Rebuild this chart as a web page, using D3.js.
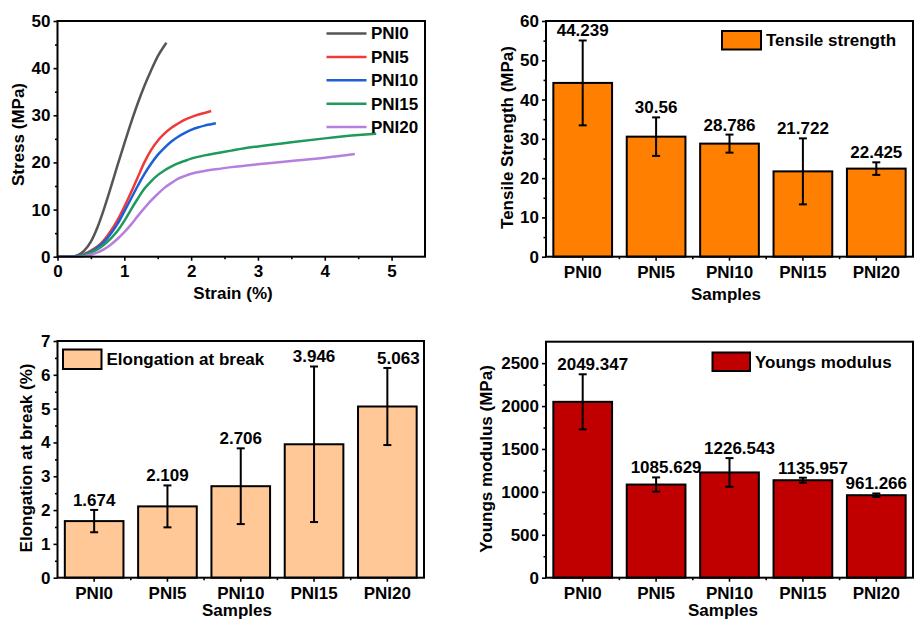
<!DOCTYPE html>
<html><head><meta charset="utf-8">
<script src="https://cdn.jsdelivr.net/npm/d3@7"></script>
<style>
body{margin:0;background:#fff}
text{font-family:"Liberation Sans",Arial,sans-serif;font-weight:bold;fill:#000}
</style>
</head><body><svg id="c" width="914" height="621"></svg>
<script>
// ---------- DATA ----------
const samples = ["PNI0","PNI5","PNI10","PNI15","PNI20"];

const tensile = [44.239, 30.56, 28.786, 21.722, 22.425];
const tensileErr = [10.8, 4.9, 2.3, 8.4, 1.6];
const tensileLabels = ["44.239","30.56","28.786","21.722","22.425"];

const elongation = [1.674, 2.109, 2.706, 3.946, 5.063];
const elongationErr = [0.33, 0.62, 1.12, 2.3, 1.14];
const elongationLabels = ["1.674","2.109","2.706","3.946","5.063"];

const modulus = [2049.347, 1085.629, 1226.543, 1135.957, 961.266];
const modulusErr = [321, 83, 167, 29, 20];
const modulusLabels = ["2049.347","1085.629","1226.543","1135.957","961.266"];

const curveNames = ["PNI0","PNI5","PNI10","PNI15","PNI20"];
const curveColors = ["#555555","#F03A3A","#1C5FD6","#1F9A5C","#B67FDD"];
const curvePNI0 = [[0,0],[0.2,0],[0.3,0.3],[0.4,1.3],[0.5,3.2],[0.6,6.3],[0.7,10.3],[0.8,14.8],[0.9,19.5],[1.0,24],[1.1,28.4],[1.2,32.5],[1.3,36.2],[1.4,39.5],[1.5,42.5],[1.63,45.4]];
const curvePNI5 = [[0,0],[0.2,0],[0.3,0.2],[0.4,0.6],[0.5,1.3],[0.6,2.2],[0.7,3.6],[0.8,5.5],[0.9,7.8],[1.0,10.6],[1.1,13.6],[1.2,16.8],[1.3,20],[1.4,22.6],[1.5,24.6],[1.6,26.1],[1.7,27.3],[1.8,28.2],[1.9,29],[2.0,29.6],[2.1,30.1],[2.2,30.5],[2.3,30.9]];
const curvePNI10 = [[0,0],[0.2,0],[0.3,0.2],[0.4,0.5],[0.5,1.1],[0.6,2],[0.7,3.2],[0.8,4.9],[0.9,7],[1.0,9.6],[1.1,12.3],[1.2,15],[1.3,17.5],[1.4,19.7],[1.5,21.6],[1.6,23.1],[1.7,24.4],[1.8,25.4],[1.9,26.2],[2.0,26.9],[2.1,27.4],[2.2,27.8],[2.3,28.1],[2.37,28.3]];
const curvePNI15 = [[0,0],[0.2,0],[0.3,0.1],[0.4,0.4],[0.5,0.9],[0.6,1.6],[0.7,2.6],[0.8,3.9],[0.9,5.5],[1.0,7.6],[1.1,10],[1.2,12.3],[1.3,14.4],[1.4,16],[1.5,17.3],[1.6,18.3],[1.7,19.1],[1.8,19.8],[1.9,20.3],[2.0,20.8],[2.2,21.5],[2.4,22],[2.6,22.5],[2.8,23],[3.0,23.4],[3.5,24.3],[4.0,25.1],[4.5,25.8],[4.77,26.1]];
const curvePNI20 = [[0,0],[0.3,0],[0.4,0.1],[0.5,0.4],[0.6,0.9],[0.7,1.6],[0.8,2.6],[0.9,3.8],[1.0,5.2],[1.1,6.8],[1.2,8.6],[1.3,10.3],[1.4,11.9],[1.5,13.3],[1.6,14.6],[1.7,15.6],[1.8,16.5],[1.9,17.1],[2.0,17.6],[2.2,18.2],[2.4,18.6],[2.6,19],[2.8,19.3],[3.0,19.6],[3.5,20.3],[4.0,21],[4.45,21.8]];
const curves = [curvePNI0, curvePNI5, curvePNI10, curvePNI15, curvePNI20];

const strainTicks = [0,1,2,3,4,5];
const stressTicks = [0,10,20,30,40,50];
const tensileTicks = [0,10,20,30,40,50,60];
const elongTicks = [0,1,2,3,4,5,6,7];
const modulusTicks = [0,500,1000,1500,2000,2500];

// ---------- DRAW ----------
const svg = d3.select("#c");
svg.append("rect").attr("width",914).attr("height",621).attr("fill","#fff");
const fmt = d3.format("d");

function styleAxis(g, fs){
  g.select(".domain").remove();
  g.selectAll(".tick line").attr("stroke","#000").attr("stroke-width",1.6);
  g.selectAll(".tick text").style("font-size",(fs||17)+"px").attr("fill","#000");
}

function frame(x0,x1,yT,yB){
  svg.append("rect").attr("x",x0).attr("y",yT).attr("width",x1-x0).attr("height",yB-yT)
    .attr("fill","none").attr("stroke","#000").attr("stroke-width",2);
}

function yTitle(txt,cx,cy){
  svg.append("text").attr("transform",`translate(${cx},${cy}) rotate(-90)`)
    .attr("text-anchor","middle").attr("dy","0.35em").style("font-size","17px").text(txt);
}
function xTitle(txt,cx,cy){
  svg.append("text").attr("x",cx).attr("y",cy).attr("text-anchor","middle")
    .attr("dy","0.35em").style("font-size","17px").text(txt);
}

function yAxes(y,x0,ticks,minorTicks){
  const g = svg.append("g").attr("transform",`translate(${x0},0)`)
    .call(d3.axisLeft(y).tickValues(ticks).tickFormat(fmt).tickSize(4).tickPadding(3));
  styleAxis(g);
  const gm = svg.append("g").attr("transform",`translate(${x0},0)`)
    .call(d3.axisLeft(y).tickValues(minorTicks).tickSize(2.5).tickFormat(""));
  styleAxis(gm);
}

// Panel 1: stress-strain curves
(function(){
  const x0=57.5,x1=425,yT=21,yB=256.7;
  const x = d3.scaleLinear().domain([0,5.5]).range([x0,x1]);
  const y = d3.scaleLinear().domain([0,50]).range([yB,yT]);
  const line = d3.line().x(d=>x(d[0])).y(d=>y(d[1])).curve(d3.curveMonotoneX);
  curves.forEach((c,i)=>{
    svg.append("path").attr("d",line(c)).attr("fill","none")
      .attr("stroke",curveColors[i]).attr("stroke-width",2.5);
  });
  yAxes(y,x0,stressTicks,d3.range(5,50,10));
  const gx = svg.append("g").attr("transform",`translate(0,${yB})`)
    .call(d3.axisBottom(x).tickValues(strainTicks).tickFormat(fmt).tickSize(4).tickPadding(4));
  styleAxis(gx);
  const gxm = svg.append("g").attr("transform",`translate(0,${yB})`)
    .call(d3.axisBottom(x).tickValues(d3.range(0.5,5.5,1)).tickSize(2.5).tickFormat(""));
  styleAxis(gxm);
  frame(x0,x1,yT,yB);
  // legend
  curveNames.forEach((n,i)=>{
    const ly = 33.5 + i*23.4;
    svg.append("line").attr("x1",326.5).attr("x2",366.5).attr("y1",ly).attr("y2",ly)
      .attr("stroke",curveColors[i]).attr("stroke-width",2.5);
    svg.append("text").attr("x",371).attr("y",ly).attr("dy","0.35em")
      .style("font-size","17px").text(n);
  });
  yTitle("Stress (MPa)",18.5,134.5);
  xTitle("Strain (%)",233,293);
})();

function barPanel(o){
  const x = d3.scaleBand().domain(samples).range([o.x0,o.x1]).paddingInner(0.2).paddingOuter(0.1);
  const y = d3.scaleLinear().domain(o.domain).range([o.yB,o.yT]);
  svg.append("g").selectAll("rect").data(o.values).join("rect")
    .attr("x",(d,i)=>x(samples[i])).attr("width",x.bandwidth())
    .attr("y",d=>y(d)).attr("height",d=>o.yB-y(d))
    .attr("fill",o.color).attr("stroke","#000").attr("stroke-width",2);
  // error bars
  o.values.forEach((v,i)=>{
    const cx = x(samples[i]) + x.bandwidth()/2;
    const top = y(v+o.errs[i]), bot = y(v-o.errs[i]);
    const g = svg.append("g").attr("stroke","#000").attr("stroke-width",2);
    g.append("line").attr("x1",cx).attr("x2",cx).attr("y1",top).attr("y2",bot);
    g.append("line").attr("x1",cx-4).attr("x2",cx+4).attr("y1",top).attr("y2",top);
    g.append("line").attr("x1",cx-4).attr("x2",cx+4).attr("y1",bot).attr("y2",bot);
    const dx = (o.labelDx ? o.labelDx(i) : 0);
    svg.append("text").attr("x",cx+dx).attr("y",top-4).attr("text-anchor","middle")
      .style("font-size","17px").text(o.labels[i]);
  });
  yAxes(y,o.x0,o.ticks,o.minor);
  const gx = svg.append("g").attr("transform",`translate(0,${o.yB})`)
    .call(d3.axisBottom(x).tickSize(4).tickPadding(5));
  styleAxis(gx);
  const step = x.step(), gap = step - x.bandwidth();
  samples.slice(1).forEach(s=>{
    const mx = x(s) - gap/2;
    svg.append("line").attr("x1",mx).attr("x2",mx).attr("y1",o.yB).attr("y2",o.yB+2.5)
      .attr("stroke","#000").attr("stroke-width",1.6);
  });
  frame(o.x0,o.x1,o.yT,o.yB);
  // legend
  const L = o.legend;
  svg.append("rect").attr("x",L.x).attr("y",L.y).attr("width",L.w).attr("height",L.h)
    .attr("fill",o.color).attr("stroke","#000").attr("stroke-width",2);
  svg.append("text").attr("x",L.x+L.w+5).attr("y",L.y+L.h/2).attr("dy","0.35em")
    .style("font-size","17px").text(o.legendText);
  yTitle(o.yTitle,o.yTitlePos[0],o.yTitlePos[1]);
  xTitle("Samples",o.xTitlePos[0],o.xTitlePos[1]);
}

barPanel({x0:546,x1:913,yT:21,yB:256.7,domain:[0,60],ticks:tensileTicks,minor:d3.range(5,60,10),
  values:tensile,errs:tensileErr,labels:tensileLabels,color:"#FF7F00",
  legend:{x:722,y:31,w:39,h:18.5},legendText:"Tensile strength",
  yTitle:"Tensile Strength (MPa)",yTitlePos:[507.5,137.5],xTitlePos:[726,294]});

barPanel({x0:57.5,x1:424,yT:341,yB:577.7,domain:[0,7],ticks:elongTicks,minor:d3.range(0.5,7,1),
  values:elongation,errs:elongationErr,labels:elongationLabels,color:"#FFC896",
  labelDx:i=> i===4 ? 11 : 0,
  legend:{x:63,y:349.5,w:38.5,h:19.5},legendText:"Elongation at break",
  yTitle:"Elongation at break (%)",yTitlePos:[26,458],xTitlePos:[237,610]});

barPanel({x0:546,x1:913,yT:341.7,yB:577.7,domain:[0,2750],ticks:modulusTicks,minor:d3.range(250,2750,500),
  values:modulus,errs:modulusErr,labels:modulusLabels,color:"#C00000",
  labelDx:i=> i===4 ? 0 : 10,
  legend:{x:712.5,y:352.5,w:37.5,h:18.5},legendText:"Youngs modulus",
  yTitle:"Youngs modulus (MPa)",yTitlePos:[486,459],xTitlePos:[723,610]});
</script>
</body></html>
